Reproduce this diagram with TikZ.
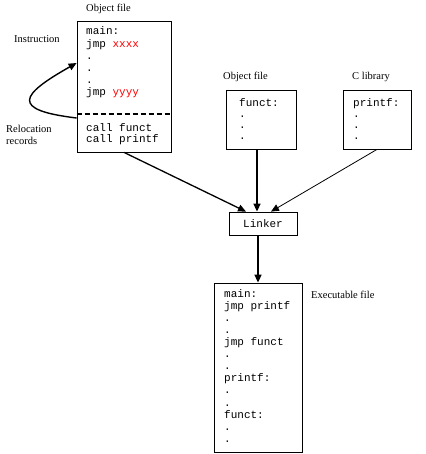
\documentclass[tikz,border=0pt]{standalone}
\usepackage{xcolor}
\usepackage{fontspec}
\setmainfont{Liberation Serif}
\setmonofont{Liberation Mono}
\usepackage{tikz}
\usetikzlibrary{arrows.meta}

\tikzset{
	filebox/.style={draw, line width=0.8pt, inner sep=0pt},
	code/.style={anchor=north west, inner sep=0pt, font=\ttfamily\fontsize{11}{12.1}\selectfont},
	smallcode/.style={code, font=\ttfamily\fontsize{11}{11}\selectfont},
	caption/.style={anchor=base west, inner sep=0pt, font=\fontsize{10.5}{12}\selectfont},
	link/.style={-{Triangle[length=8pt,width=7pt]}}
}

\begin{document}
\begin{tikzpicture}[x=1pt,y=-1pt]
			\useasboundingbox (0,0) rectangle (425,454);

			\node[filebox, minimum width=94pt, minimum height=131pt] (objbox) at (124,86.5) {};
			\node[filebox, minimum width=70pt, minimum height=59pt] (functbox) at (261,119.5) {};
			\node[filebox, minimum width=68pt, minimum height=59pt] (printfbox) at (377,119.5) {};
			\node[filebox, minimum width=68pt, minimum height=23pt, font=\ttfamily\fontsize{11}{12}\selectfont] (linker) at (263,223.5) {Linker};
			\node[filebox, minimum width=88pt, minimum height=169pt] (exebox) at (258,367.5) {};

			\draw[line width=1.6pt, dash pattern=on 5pt off 3pt] (objbox.west |- 0,114) -- (objbox.east |- 0,114);

			\node[code] (maincode) at (86,26.3)
			{
				\begin{tabular}{@{}l@{}}
					main: \\
					jmp \textcolor{red}{xxxx} \\
					. \\
					. \\
					. \\
					jmp \textcolor{red}{yyyy} \\
				\end{tabular}
			};
			\node[smallcode] (calls) at (86,123.3)
			{
				\begin{tabular}{@{}l@{}}
					call funct \\
					call printf \\
				\end{tabular}
			};
			\node[smallcode] (functcode) at (239,98.3)
			{
				\begin{tabular}{@{}l@{}}
					funct: \\
					. \\
					. \\
					. \\
				\end{tabular}
			};
			\node[smallcode] (printfcode) at (353,98.3)
			{
				\begin{tabular}{@{}l@{}}
					printf: \\
					. \\
					. \\
					. \\
				\end{tabular}
			};
			\node[code] (execode) at (224,288.5)
			{
				\begin{tabular}{@{}l@{}}
					main: \\
					jmp printf \\
					. \\
					. \\
					jmp funct \\
					. \\
					. \\
					printf: \\
					. \\
					. \\
					funct: \\
					. \\
					. \\
				\end{tabular}
			};

			\node[caption] (objlabel) at (86,11.5) {Object file};
			\node[caption] (instrlabel) at (14,43) {Instruction};
			\node[caption, anchor=north west] (reloclabel) at (6,123.6)
			{
				\begin{tabular}{@{}l@{}}
					Relocation \\
					records \\
				\end{tabular}
			};
			\node[caption] (functlabel) at (223,80) {Object file};
			\node[caption] (clib) at (352,80) {C library};
			\node[caption] (exelabel) at (311,298) {Executable file};

			\draw[link, line width=1.4pt] (objbox.west |- 0,118) .. controls (10,110) and (20,95) .. (objbox.west |- 0,63);
			\draw[link, line width=1.3pt] (objbox.south) -- ([xshift=-17pt]linker.north);
			\draw[link, line width=1.6pt] ([xshift=-4pt]functbox.south) -- ([xshift=-4pt]functbox.south |- linker.north);
			\draw[link, line width=0.8pt] (printfbox.south) -- ([xshift=8pt]linker.north);
			\draw[link, line width=1.6pt] (exebox.north |- linker.south) -- (exebox.north);
		\end{tikzpicture}
\end{document}
